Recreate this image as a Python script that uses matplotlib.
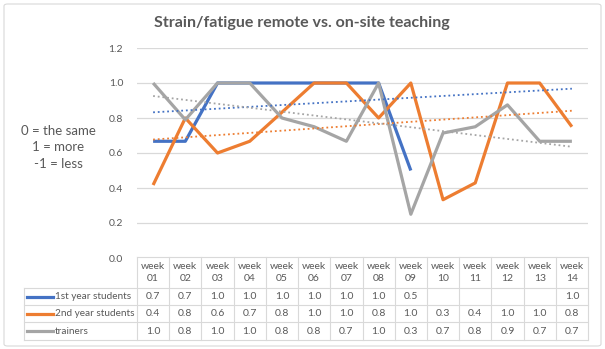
import numpy as np
import matplotlib.pyplot as plt
from matplotlib.lines import Line2D
from matplotlib.patches import FancyBboxPatch

plt.rcParams['font.family'] = ['Lato', 'DejaVu Sans']

# data
weeks = ['01', '02', '03', '04', '05', '06', '07', '08', '09', '10', '11', '12', '13', '14']
first_year = [0.667, 0.667, 1.0, 1.0, 1.0, 1.0, 1.0, 1.0, 0.5, np.nan, np.nan, np.nan, np.nan, 1.0]
second_year = [0.417, 0.8, 0.6, 0.667, 0.833, 1.0, 1.0, 0.8, 1.0, 0.333, 0.429, 1.0, 1.0, 0.75]
trainers = [1.0, 0.79, 1.0, 1.0, 0.8, 0.75, 0.667, 1.0, 0.25, 0.714, 0.75, 0.875, 0.667, 0.667]
series_names = ['1st year students', '2nd year students', 'trainers']
colors = ['#4472C4', '#ED7D31', '#A5A5A5']

W, H = 605, 349
TXT = '#595959'
GRID = '#D9D9D9'


def fx(x):
    return x / W


def fy(y):
    return 1 - y / H


fig = plt.figure(figsize=(W / 100, H / 100), dpi=100)

# chart area border (behind everything)
fig.add_artist(FancyBboxPatch((fx(4), fy(346)), fx(597), 342 / H,
                              boxstyle='round,pad=0,rounding_size=0.006',
                              transform=fig.transFigure, fc='white', ec=GRID, lw=0.8,
                              zorder=-5))

# plot area: x 137..588, y 48..258 px
left, right, top, bottom = 137, 588, 48, 258
ax = fig.add_axes([fx(left), fy(bottom), fx(right - left), (bottom - top) / H])
ax.patch.set_alpha(0)
x = np.arange(1, len(weeks) + 1)

all_series = [first_year, second_year, trainers]
for vals, c in zip(all_series, colors):
    v = np.array(vals, dtype=float)
    ax.plot(x, v, color=c, lw=2.3, solid_capstyle='butt', zorder=3)
    ok = ~np.isnan(v)
    k, b = np.polyfit(x[ok], v[ok], 1)
    ax.plot([x[0], x[-1]], [k * x[0] + b, k * x[-1] + b], color=c, lw=1.3,
            linestyle=(0, (1, 1.6)), zorder=4)

ax.set_xlim(0.5, len(weeks) + 0.5)
ax.set_ylim(0, 1.2)
ax.set_yticks(np.arange(0, 1.21, 0.2))
ax.set_yticklabels([f'{t:.1f}' for t in np.arange(0, 1.21, 0.2)], color=TXT, fontsize=7.5)
ax.tick_params(axis='y', length=0, pad=10)
ax.set_xticks([])
ax.grid(axis='y', color=GRID, lw=0.9)
ax.set_axisbelow(True)
for s in ax.spines.values():
    s.set_visible(False)

# title and side note
fig.text(fx(302), fy(23), 'Strain/fatigue remote vs. on-site teaching', ha='center', va='center',
         fontsize=11.5, fontweight='bold', color=TXT)
fig.text(fx(58), fy(147), '0 = the same\n1 = more\n-1 = less', ha='center', va='center',
         multialignment='center', fontsize=9.5, color=TXT, linespacing=1.45)

# data table
col_w = (right - left) / len(weeks)
tab_left = 24
row_edges = [257, 288, 305, 322, 340]


def hline(y, x0, x1):
    fig.add_artist(Line2D([fx(x0), fx(x1)], [fy(y), fy(y)], color=GRID, lw=0.8))


def vline(xp, y0, y1):
    fig.add_artist(Line2D([fx(xp), fx(xp)], [fy(y0), fy(y1)], color=GRID, lw=0.8))


hline(row_edges[0], left, right)
for y in row_edges[1:]:
    hline(y, tab_left, right)
vline(tab_left, row_edges[1], row_edges[-1])
for i in range(len(weeks) + 1):
    vline(left + i * col_w, row_edges[0], row_edges[-1])

for i, w in enumerate(weeks):
    cx = left + (i + 0.5) * col_w
    fig.text(fx(cx), fy(272.5), f'week\n{w}', ha='center', va='center', fontsize=7.5,
             color=TXT, linespacing=1.35)

for r, (name, vals, c) in enumerate(zip(series_names, all_series, colors)):
    cy = (row_edges[r + 1] + row_edges[r + 2]) / 2
    fig.add_artist(Line2D([fx(27), fx(53)], [fy(cy), fy(cy)], color=c, lw=2.3))
    fig.text(fx(55), fy(cy), name, ha='left', va='center', fontsize=7.2, color=TXT)
    for i, v in enumerate(vals):
        if np.isnan(v):
            continue
        cx = left + (i + 0.5) * col_w
        fig.text(fx(cx), fy(cy), f'{np.floor(v * 10 + 0.5) / 10:.1f}', ha='center', va='center',
                 fontsize=7.5, color=TXT)

fig.savefig('out.png', dpi=100)
